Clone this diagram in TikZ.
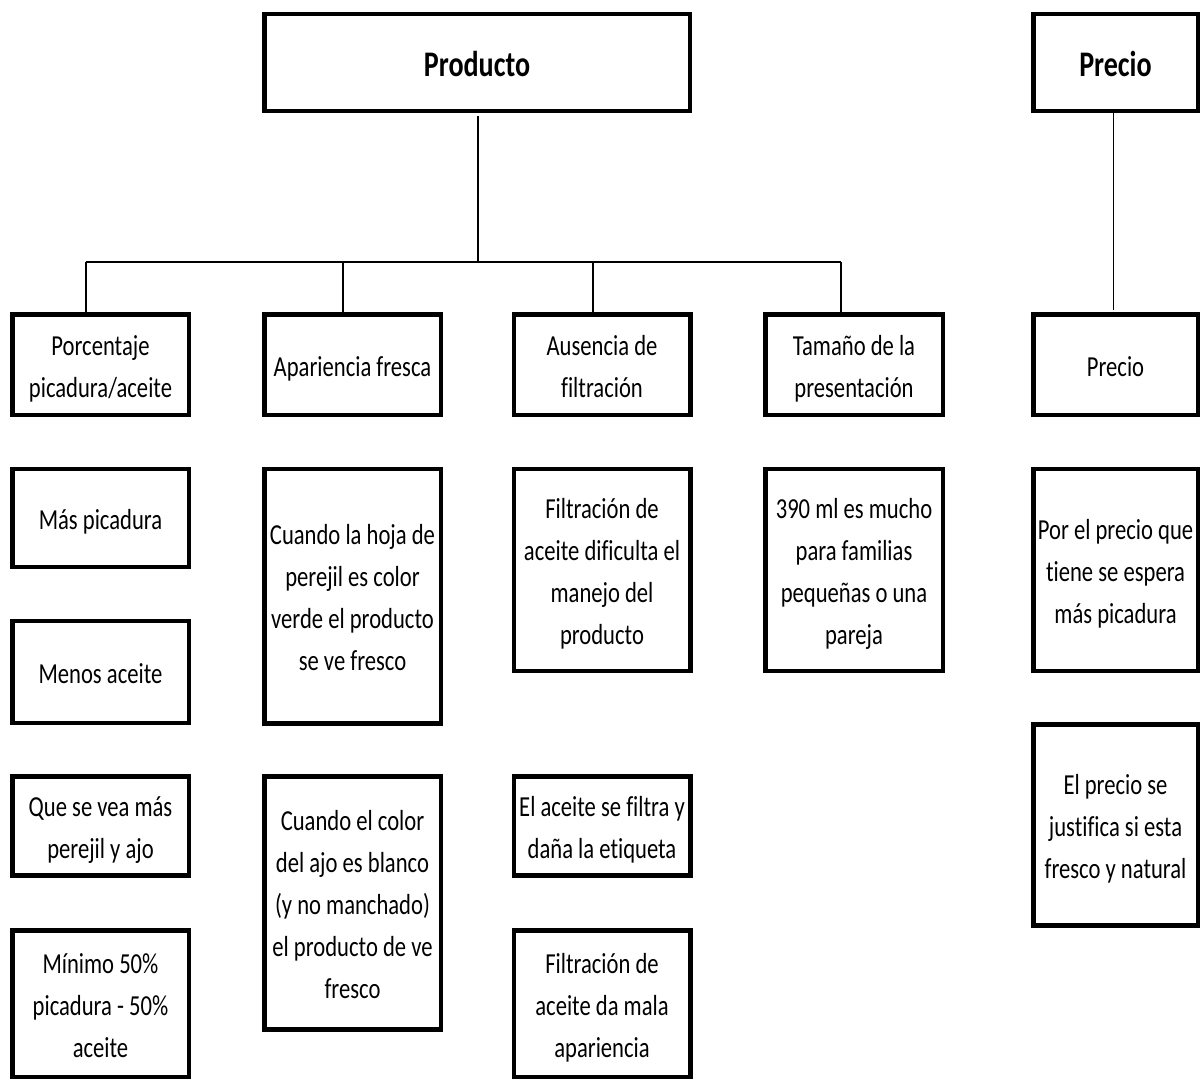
\documentclass[tikz,border=0pt]{standalone}
\usepackage{fontspec}
\setmainfont{Carlito}[FakeStretch=0.78,Ligatures={NoCommon}]

\begin{document}
\begin{tikzpicture}
            [x=1pt,y=-1pt,
             box/.style={draw,line width=4.5pt,inner sep=0pt,outer sep=0pt,align=flush center,
               font=\fontsize{29}{42}\selectfont,
               execute at begin node={\noindent\rule{0pt}{31pt}},
               execute at end node={\rule[-8pt]{0pt}{8pt}}},
             head/.style={box,font=\fontsize{36}{42}\selectfont\bfseries,
               execute at begin node={\noindent\rule{0pt}{36pt}},
               execute at end node={\rule[-9pt]{0pt}{9pt}}},
             col/.style={box,text width=176.5pt},
             pcol/.style={box,text width=164.5pt}, 
             link/.style={line width=1.6pt}]
            \useasboundingbox (0,0) rectangle (1201,1081);

            % cabeceras
            \node[head,text width=425.5pt,minimum height=96.5pt] (producto) at (477,62.5) {Producto};
            \node[head,text width=164.5pt,minimum height=96.5pt] (precio) at (1115.5,62.5) {Precio};

            % primer nivel
            \node[col,minimum height=100.5pt] (porc) at (100.5,364.5) {Porcentaje\\picadura/aceite};
            \node[col,minimum height=100.5pt] (apar) at (352.5,364.5) {Apariencia fresca};
            \node[col,minimum height=100.5pt] (ausen) at (602,364.5) {Ausencia de\\filtración};
            \node[col,minimum height=100.5pt,text width=177.5pt] (tamano) at (854,364.5) {Tamaño de la\\presentación};
            \node[pcol,minimum height=100.5pt] (prec) at (1115.5,364.5) {Precio};

            % detalle
            \node[col,minimum height=98pt] (pic) at (100.5,518) {Más picadura};
            \node[col,minimum height=102pt] (menos) at (100.5,672) {Menos aceite};
            \node[col,minimum height=99pt] (vea) at (100.5,826) {Que se vea más\\perejil y ajo};
            \node[col,minimum height=146.5pt] (minimo) at (100.5,1003.5) {Mínimo 50\%\\picadura - 50\%\\aceite};

            \node[col,minimum height=254.5pt] (hoja) at (352.5,596) {Cuando la hoja de\\perejil es color\\verde el producto\\se ve fresco};
            \node[col,minimum height=253pt] (ajo) at (352.5,903) {Cuando el color\\del ajo es blanco\\(y no manchado)\\el producto de ve\\fresco};

            \node[col,minimum height=202pt] (manejo) at (602,570) {Filtración de\\aceite dificulta el\\manejo del\\producto};
            \node[col,minimum height=99pt] (etiq) at (602,826) {El aceite se filtra y\\daña la etiqueta};
            \node[col,minimum height=146.5pt] (mala) at (602,1003.5) {Filtración de\\aceite da mala\\apariencia};

            \node[col,minimum height=202pt,text width=177.5pt] (ml) at (854,570) {390 ml es mucho\\para familias\\pequeñas o una\\pareja};

            \node[pcol,minimum height=202pt] (espera) at (1115.5,570) {Por el precio que\\tiene se espera\\más picadura};
            \node[pcol,minimum height=201pt] (justif) at (1115.5,825) {El precio se\\justifica si esta\\fresco y natural};

            % conectores
            \coordinate (bus) at (478,262);
            \coordinate (busL) at (86,262);
            \coordinate (busR) at (841,262);
            \draw[link,shorten <=5pt] ([xshift=1pt]producto.south) -- (bus);
            \draw[link] (busL) -- (busR);
            \draw[link] (busL) -- (busL |- porc.north);
            \draw[link] (busR) -- (busR |- tamano.north);
            \draw[link] ([xshift=-9.5pt]apar.north) -- ([xshift=-9.5pt]apar.north |- bus);
            \draw[link] ([xshift=-9pt]ausen.north) -- ([xshift=-9pt]ausen.north |- bus);
            \draw[link,shorten >=4pt] ([xshift=-2pt]precio.south) -- ([xshift=-2pt]prec.north);
          \end{tikzpicture}
\end{document}
